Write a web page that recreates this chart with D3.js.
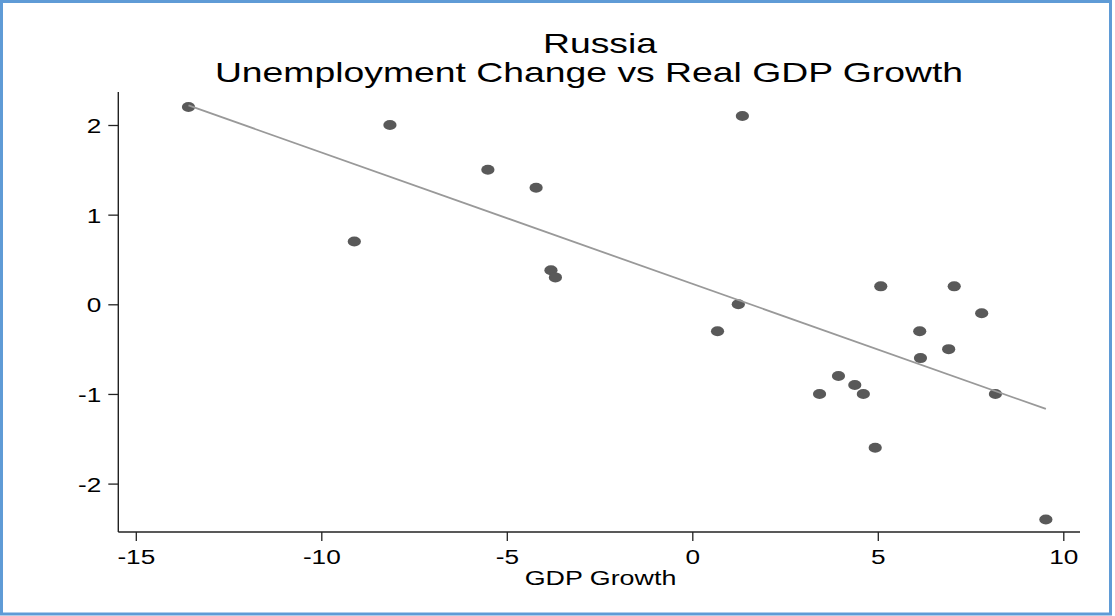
<!DOCTYPE html>
<html>
<head>
<meta charset="utf-8">
<script src="https://cdn.jsdelivr.net/npm/d3@7"></script>
<style>
  html, body { margin: 0; padding: 0; background: #fff; }
  svg { display: block; }
  text { font-family: "Liberation Sans", Arial, sans-serif; fill: #000; }
</style>
</head>
<body>
<svg id="chart" width="1115" height="616"></svg>
<script>
// Real GDP growth (%) and change in unemployment rate (pp), Russia
const gdpGrowth = [-13.58, -8.15, -9.11, -5.51, -4.21, -3.81, -3.69, 1.24, 0.68, 1.35,
                   5.08, 7.06, 7.80, 6.13, 6.91, 6.15, 3.94, 4.38, 3.43, 4.61, 8.17, 4.93, 9.53];
const unempChange = [2.2, 2.0, 0.7, 1.5, 1.3, 0.38, 0.3, 0.0, -0.3, 2.1,
                     0.2, 0.2, -0.1, -0.3, -0.5, -0.6, -0.8, -0.9, -1.0, -1.0, -1.0, -1.6, -2.4];
const xTicks = [-15, -10, -5, 0, 5, 10];
const yTicks = [-2, -1, 0, 1, 2];
const titleLines = ["Russia", "Unemployment Change vs Real GDP Growth"];
const xTitle = "GDP Growth";

const svg = d3.select("#chart");
const W = 1115, H = 616;
const sx = 1.31; // horizontal text stretch

// frame
svg.append("rect")
  .attr("x", 1.5).attr("y", 1.5).attr("width", 1109).attr("height", 612.5)
  .attr("fill", "#fff").attr("stroke", "#5f9bd6").attr("stroke-width", 3);

const x = d3.scaleLinear().domain([-15, 10]).range([135.8, 1063.3]);
const y = d3.scaleLinear().domain([-2, 2]).range([483.6, 125]);

const plotLeft = 118.3, plotRight = 1080, plotTop = 92, plotBottom = 532;

// axes
const xAxis = d3.axisBottom(x).tickValues(xTicks).tickSize(9).tickSizeOuter(0).tickFormat(d3.format("d"));
const gx = svg.append("g").attr("transform", `translate(0,${plotBottom})`).call(xAxis);
gx.select(".domain").remove();
gx.selectAll(".tick line").attr("stroke", "#222").attr("stroke-width", 1.3);
gx.selectAll(".tick text")
  .attr("y", 0).attr("dy", 0)
  .attr("transform", `translate(0,32) scale(${sx},1)`)
  .attr("font-size", 20).attr("fill", "#000")
  .text(d => d < 0 ? "-" + Math.abs(d) : d);

const yAxis = d3.axisLeft(y).tickValues(yTicks).tickSize(10).tickSizeOuter(0);
const gy = svg.append("g").attr("transform", `translate(${plotLeft},0)`).call(yAxis);
gy.select(".domain").remove();
gy.selectAll(".tick line").attr("stroke", "#222").attr("stroke-width", 1.3);
gy.selectAll(".tick text")
  .attr("x", 0).attr("dy", "0.37em")
  .attr("transform", `translate(-17,0) scale(${sx},1)`)
  .attr("font-size", 20).attr("fill", "#000")
  .text(d => d < 0 ? "-" + Math.abs(d) : d);

// axis lines
svg.append("line")
  .attr("x1", plotLeft).attr("x2", plotRight).attr("y1", plotBottom).attr("y2", plotBottom)
  .attr("stroke", "#222").attr("stroke-width", 1.4);
svg.append("line")
  .attr("x1", plotLeft).attr("x2", plotLeft).attr("y1", plotTop).attr("y2", plotBottom)
  .attr("stroke", "#222").attr("stroke-width", 1.4);

// least-squares fit line over the range of the data
const n = gdpGrowth.length;
const mx = d3.mean(gdpGrowth), my = d3.mean(unempChange);
let sxy = 0, sxx = 0;
for (let i = 0; i < n; i++) {
  sxy += (gdpGrowth[i] - mx) * (unempChange[i] - my);
  sxx += (gdpGrowth[i] - mx) ** 2;
}
const slope = sxy / sxx, intercept = my - slope * mx;
const [xmin, xmax] = d3.extent(gdpGrowth);
const fit = [xmin, xmax].map(v => [v, intercept + slope * v]);

// points
svg.append("g").selectAll("ellipse")
  .data(d3.range(n))
  .join("ellipse")
  .attr("cx", i => x(gdpGrowth[i]))
  .attr("cy", i => y(unempChange[i]))
  .attr("rx", 6.6).attr("ry", 5)
  .attr("fill", "#595959");

svg.append("path")
  .datum(fit)
  .attr("d", d3.line().x(d => x(d[0])).y(d => y(d[1])))
  .attr("fill", "none").attr("stroke", "#999").attr("stroke-width", 1.8);

// titles
svg.append("text")
  .attr("transform", `translate(600,52.5) scale(${sx},1)`)
  .attr("text-anchor", "middle").attr("font-size", 28.5)
  .text(titleLines[0]);
svg.append("text")
  .attr("transform", `translate(589,82) scale(${sx},1)`)
  .attr("text-anchor", "middle").attr("font-size", 28.5)
  .text(titleLines[1]);

svg.append("text")
  .attr("transform", `translate(600.5,584.5) scale(${sx},1)`)
  .attr("text-anchor", "middle").attr("font-size", 20.5)
  .text(xTitle);
</script>
</body>
</html>
